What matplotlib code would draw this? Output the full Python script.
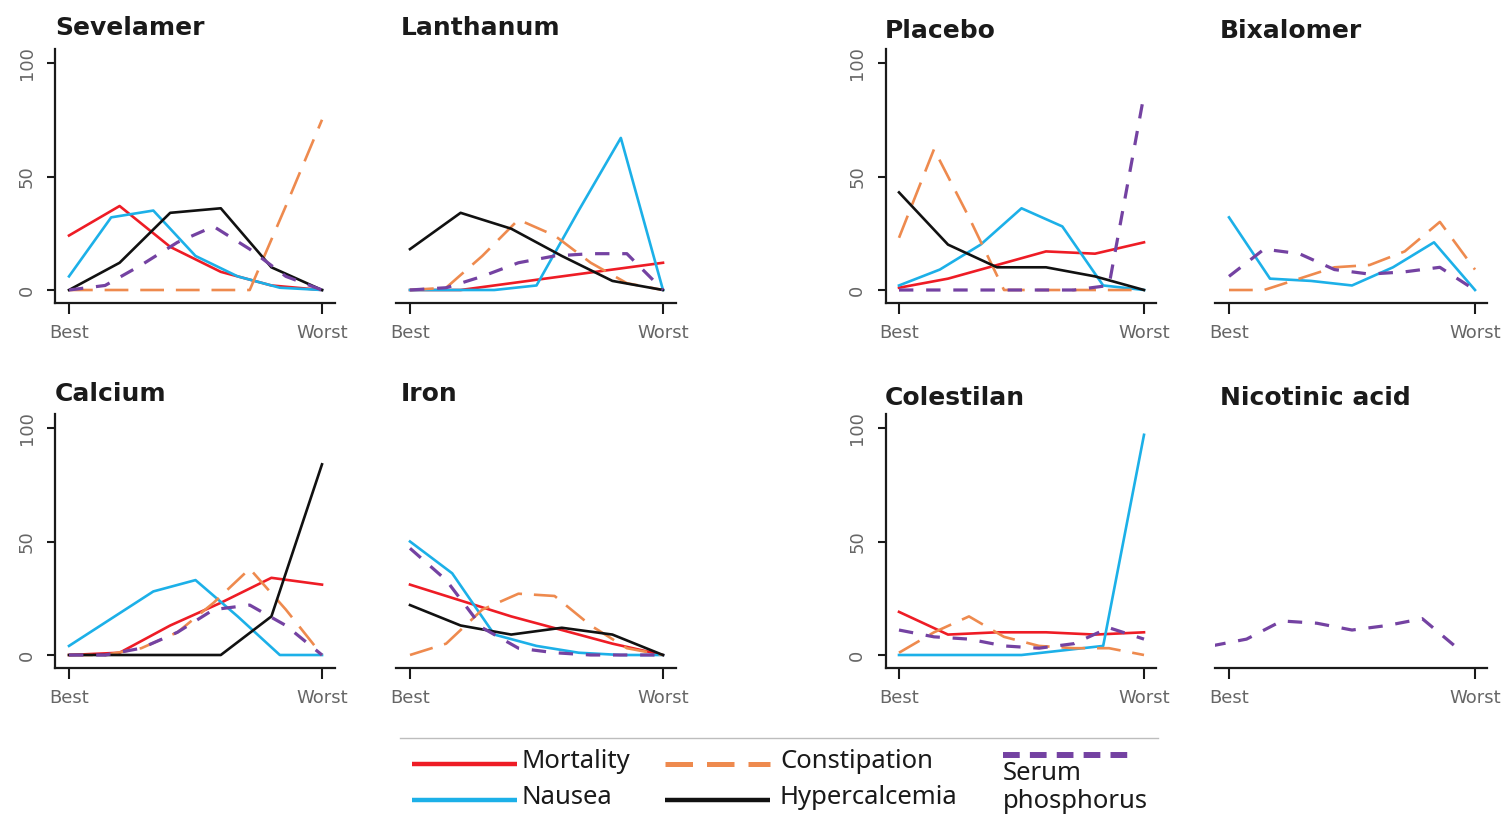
import numpy as np
import matplotlib
matplotlib.use("Agg")
import matplotlib.pyplot as plt
from matplotlib.lines import Line2D

W, H = 1511, 815

# outcome order and styles
outcomes = ["Mortality", "Nausea", "Constipation", "Hypercalcemia", "Serum phosphorus"]
colors = {"Mortality": "#ee1c25", "Nausea": "#1cb0e8", "Constipation": "#ee8a4e",
          "Hypercalcemia": "#111111", "Serum phosphorus": "#7442a2"}

# rankogram values (% probability), best -> worst
sevelamer_mortality = [24, 37, 19, 8, 2, 0]
sevelamer_nausea = [6, 32, 35, 15, 6, 1, 0]
sevelamer_constipation = [0, 0, 0, 0, 0, 0, 37, 75]
sevelamer_hypercalcemia = [0, 12, 34, 36, 10, 0]
sevelamer_phosphorus = [0, 2, 11, 21, 28, 18, 6, 0]

lanthanum_mortality = [0, 0, 3, 6, 9, 12]
lanthanum_nausea = [0, 0, 0, 2, 35, 67, 0]
lanthanum_constipation = [0, 1, 15, 31, 24, 12, 3, 0]
lanthanum_hypercalcemia = [18, 34, 27, 15, 4, 0]
lanthanum_phosphorus = [0, 1, 6, 12, 15, 16, 16, 0]

placebo_mortality = [1, 5, 11, 17, 16, 21]
placebo_nausea = [2, 9, 20, 36, 28, 2, 0]
placebo_constipation = [23, 62, 32, 0, 0, 0, 0, 0]
placebo_hypercalcemia = [43, 20, 10, 10, 6, 0]
placebo_phosphorus = [0, 0, 0, 0, 0, 0, 2, 86]

bixalomer_nausea = [32, 5, 4, 2, 10, 21, 0]
bixalomer_constipation = [0, 0, 5, 10, 11, 17, 30, 9]
bixalomer_phosphorus = [6, 18, 16, 9, 7, 8, 10, 0]

calcium_mortality = [0, 1, 13, 23, 34, 31]
calcium_nausea = [4, 16, 28, 33, 17, 0, 0]
calcium_constipation = [0, 0, 3, 10, 23, 38, 20, 0]
calcium_hypercalcemia = [0, 0, 0, 0, 17, 84]
calcium_phosphorus = [0, 0, 3, 10, 20, 22, 13, 0]

iron_mortality = [31, 24, 17, 11, 5, 0]
iron_nausea = [50, 36, 9, 4, 1, 0, 0]
iron_constipation = [0, 5, 20, 27, 26, 13, 3, 0]
iron_hypercalcemia = [22, 13, 9, 12, 9, 0]
iron_phosphorus = [47, 33, 12, 3, 1, 0, 0, 0]

colestilan_mortality = [19, 9, 10, 10, 9, 10]
colestilan_nausea = [0, 0, 0, 0, 2, 4, 97]
colestilan_constipation = [1, 10, 17, 8, 4, 3, 3, 0]
colestilan_phosphorus = [11, 8, 7, 4, 3, 5, 12, 7]

nicotinic_phosphorus = [4, 7, 15, 14, 11, 13, 16, 3]
nicotinic_shift = -0.5 / 7  # curve drawn half a rank to the left in the source

panels = [
    ("Sevelamer", {"Mortality": sevelamer_mortality, "Nausea": sevelamer_nausea,
                   "Constipation": sevelamer_constipation, "Hypercalcemia": sevelamer_hypercalcemia,
                   "Serum phosphorus": sevelamer_phosphorus}),
    ("Lanthanum", {"Mortality": lanthanum_mortality, "Nausea": lanthanum_nausea,
                   "Constipation": lanthanum_constipation, "Hypercalcemia": lanthanum_hypercalcemia,
                   "Serum phosphorus": lanthanum_phosphorus}),
    ("Placebo", {"Mortality": placebo_mortality, "Nausea": placebo_nausea,
                 "Constipation": placebo_constipation, "Hypercalcemia": placebo_hypercalcemia,
                 "Serum phosphorus": placebo_phosphorus}),
    ("Bixalomer", {"Nausea": bixalomer_nausea, "Constipation": bixalomer_constipation,
                   "Serum phosphorus": bixalomer_phosphorus}),
    ("Calcium", {"Mortality": calcium_mortality, "Nausea": calcium_nausea,
                 "Constipation": calcium_constipation, "Hypercalcemia": calcium_hypercalcemia,
                 "Serum phosphorus": calcium_phosphorus}),
    ("Iron", {"Mortality": iron_mortality, "Nausea": iron_nausea,
              "Constipation": iron_constipation, "Hypercalcemia": iron_hypercalcemia,
              "Serum phosphorus": iron_phosphorus}),
    ("Colestilan", {"Mortality": colestilan_mortality, "Nausea": colestilan_nausea,
                    "Constipation": colestilan_constipation, "Serum phosphorus": colestilan_phosphorus}),
    ("Nicotinic acid", {"Serum phosphorus": nicotinic_phosphorus}),
]

# layout in pixels: (best tick x, best->worst span) per column, zero line y per row
cols = [(69, 253), (410, 253), (899, 245), (1229, 246)]
rows = [290, 655]
px_per_unit = 2.27
title_pos = [(55, 35), (401, 35), (885, 38), (1220, 38),
             (55, 401), (401, 401), (885, 405), (1220, 405)]
with_yaxis = {"Sevelamer", "Placebo", "Calcium", "Colestilan"}

ylo, yhi = -5.7, 106
xlo, xhi = -0.055, 1.05

fig = plt.figure(figsize=(W / 100, H / 100), dpi=100)


def line_style(name):
    if name == "Constipation":
        return dict(lw=1.9, dashes=(9, 4.5))
    if name == "Serum phosphorus":
        return dict(lw=2.3, dashes=(4.5, 4))
    return dict(lw=1.9, linestyle="-")


for i, (drug, series) in enumerate(panels):
    best, span = cols[i % 4]
    zero = rows[i // 4]
    left = best + xlo * span
    width = (xhi - xlo) * span
    bottom = zero - ylo * px_per_unit
    height = (yhi - ylo) * px_per_unit
    ax = fig.add_axes([left / W, 1 - bottom / H, width / W, height / H])
    ax.set_xlim(xlo, xhi)
    ax.set_ylim(ylo, yhi)

    for name in outcomes:
        if name not in series:
            continue
        vals = series[name]
        x = np.linspace(0, 1, len(vals))
        if drug == "Nicotinic acid":
            x = x + nicotinic_shift
        ax.plot(x, vals, color=colors[name], solid_joinstyle="round",
                dash_capstyle="butt", **line_style(name))

    for s in ["top", "right"]:
        ax.spines[s].set_visible(False)
    ax.spines["bottom"].set_linewidth(1.6)
    ax.spines["bottom"].set_color("#1a1a1a")
    ax.set_xticks([0, 1])
    ax.set_xticklabels(["Best", "Worst"])
    ax.tick_params(axis="x", length=8, width=1.5, color="#1a1a1a", pad=7,
                   labelsize=13, labelcolor="#666666")
    if drug in with_yaxis:
        ax.spines["left"].set_linewidth(1.6)
        ax.spines["left"].set_color("#1a1a1a")
        ax.set_yticks([0, 50, 100])
        ax.tick_params(axis="y", length=6, width=1.5, color="#1a1a1a", pad=8,
                       labelsize=13, labelcolor="#666666", labelrotation=90)
        for lab in ax.get_yticklabels():
            lab.set_va("center")
    else:
        ax.spines["left"].set_visible(False)
        ax.set_yticks([])
    ax.patch.set_alpha(0)

    tx, ty = title_pos[i]
    fig.text(tx / W, 1 - ty / H, drug, fontsize=18, fontweight="bold",
             color="#1a1a1a", va="baseline", ha="left")


# legend below the panels
def fx(px):
    return px / W


def fy(py):
    return 1 - py / H


fig.add_artist(Line2D([fx(400), fx(1158)], [fy(738), fy(738)], color="#bdbdbd", lw=1))

legend_keys = [
    ("Mortality", 412, 764, dict(lw=3.2, linestyle="-")),
    ("Nausea", 412, 800, dict(lw=3.2, linestyle="-")),
    ("Constipation", 665, 764, dict(lw=3.6, dashes=(5.5, 2.8))),
    ("Hypercalcemia", 665, 800, dict(lw=3.2, linestyle="-")),
]
for name, x0, y0, st in legend_keys:
    fig.add_artist(Line2D([fx(x0), fx(x0 + 105)], [fy(y0), fy(y0)],
                          color=colors[name], solid_capstyle="butt",
                          dash_capstyle="butt", **st))
    fig.text(fx(x0 + 109 if x0 < 600 else x0 + 115), fy(y0 - 3), name,
             fontsize=18.5, family="Noto Sans", color="#1a1a1a", va="center", ha="left")

fig.add_artist(Line2D([fx(1003), fx(1135)], [fy(755), fy(755)],
                      color=colors["Serum phosphorus"], lw=4.3, dashes=(2.8, 1.7),
                      dash_capstyle="butt"))
fig.text(fx(1003), fy(773), "Serum", fontsize=18.5, family="Noto Sans",
         color="#1a1a1a", va="center", ha="left")
fig.text(fx(1003), fy(801), "phosphorus", fontsize=18.5, family="Noto Sans",
         color="#1a1a1a", va="center", ha="left")

fig.savefig("out.png", dpi=100)
